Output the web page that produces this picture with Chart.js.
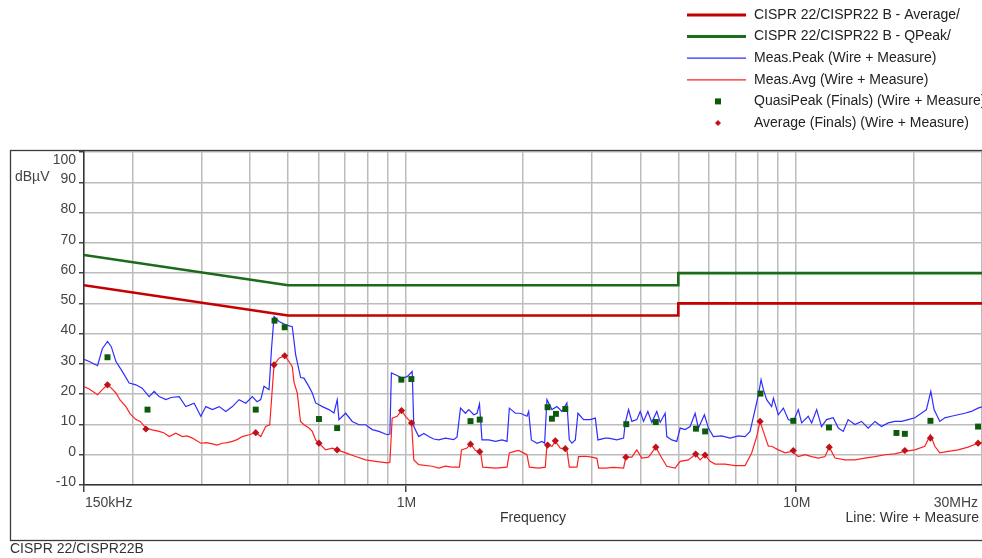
<!DOCTYPE html>
<html>
<head>
<meta charset="utf-8">
<title>CISPR 22 conducted emission</title>
<script src="https://cdn.jsdelivr.net/npm/chart.js@4.4.1/dist/chart.umd.min.js"></script>
<style>
  html, body { margin: 0; padding: 0; background: #ffffff; }
  canvas { display: block; }
</style>
</head>
<body>
<canvas id="emi" width="982" height="558"></canvas>
<script>
// ---- Limit lines (MHz, dBµV) ----
const limitAvgFreq  = [0.15, 0.5, 5, 5, 30];
const limitAvgLevel = [56, 46, 46, 50, 50];
const limitQpFreq   = [0.15, 0.5, 5, 5, 30];
const limitQpLevel  = [66, 56, 56, 60, 60];

// ---- Meas.Peak sweep (MHz, dBµV) ----
const peakFreq = [
  0.150, 0.1547, 0.1625, 0.1671, 0.1723, 0.1762, 0.1811, 0.1868, 0.1958, 0.2038,
  0.2114, 0.2203, 0.2269, 0.2337, 0.2432, 0.2508, 0.2630, 0.2735, 0.2873, 0.2988,
  0.3078, 0.3200, 0.3329, 0.3463, 0.3600, 0.3745, 0.3896, 0.4050, 0.4164, 0.4256,
  0.4339, 0.4469, 0.4535, 0.4603, 0.4741, 0.4930, 0.5126, 0.5230, 0.5386, 0.5492,
  0.5656, 0.5768, 0.5884, 0.6000, 0.6119, 0.6364, 0.6555, 0.6683, 0.6750, 0.7023,
  0.7302, 0.7596, 0.7899, 0.8214, 0.8546, 0.8973, 0.9117, 0.9199, 0.9428, 0.9802,
  1.0095, 1.040, 1.050, 1.081, 1.114, 1.147, 1.181, 1.217, 1.266, 1.329,
  1.355, 1.383, 1.424, 1.452, 1.496, 1.525, 1.547, 1.570, 1.634, 1.700,
  1.767, 1.820, 1.845, 1.912, 1.969, 2.047, 2.068, 2.101, 2.172, 2.236,
  2.272, 2.303, 2.372, 2.443, 2.516, 2.591, 2.628, 2.669, 2.723, 2.765,
  2.859, 2.974, 3.064, 3.111, 3.249, 3.313, 3.479, 3.620, 3.656, 3.728,
  3.801, 3.914, 3.994, 4.072, 4.177, 4.276, 4.404, 4.493, 4.627, 4.671,
  4.810, 4.955, 5.055, 5.206, 5.361, 5.521, 5.629, 5.832, 5.971, 6.150,
  6.457, 6.785, 7.127, 7.413, 7.635, 7.864, 8.019, 8.147, 8.259, 8.421,
  8.673, 8.761, 9.022, 9.292, 9.568, 9.854, 10.15, 10.35, 10.76, 10.98,
  11.31, 11.64, 11.99, 12.47, 12.85, 13.23, 13.62, 14.17, 14.74, 15.33,
  15.95, 16.58, 17.25, 17.94, 18.65, 19.41, 20.18, 20.98, 21.61, 22.18,
  22.61, 23.39, 24.09, 25.04, 26.05, 27.10, 28.18, 29.31, 30.0
];
const peakLevel = [
  31.5, 30.8, 29.4, 35.0, 37.4, 35.7, 30.8, 28.1, 23.7, 23.1,
  22.0, 19.2, 20.9, 19.2, 18.2, 18.9, 19.2, 15.9, 17.0, 12.7,
  15.9, 14.9, 15.9, 14.3, 15.9, 18.2, 17.0, 19.2, 17.5, 18.2,
  22.6, 21.5, 35.0, 45.6, 44.0, 42.9, 42.3, 33.0, 25.5, 25.3,
  22.5, 20.4, 17.1, 16.5, 15.9, 14.9, 13.8, 18.2, 11.6, 13.7,
  11.0, 9.9, 9.9, 8.3, 7.7, 6.6, 6.8, 27.0, 26.4, 25.3,
  25.8, 27.5, 9.3, 6.0, 7.0, 6.0, 5.2, 4.9, 5.5, 5.0,
  5.9, 15.4, 13.7, 14.9, 13.2, 13.7, 16.8, 4.9, 4.9, 4.4,
  4.9, 4.4, 15.4, 13.7, 13.7, 12.7, 14.3, 4.9, 3.8, 4.4,
  3.8, 18.2, 14.9, 15.9, 14.3, 17.1, 4.9, 3.8, 4.9, 13.7,
  11.6, 11.6, 12.1, 4.9, 5.5, 5.5, 4.9, 5.5, 10.5, 14.9,
  11.0, 11.6, 14.3, 11.0, 14.3, 10.7, 14.3, 10.7, 13.7, 6.0,
  4.9, 4.4, 8.8, 8.3, 9.3, 13.7, 8.8, 13.2, 8.8, 6.0,
  6.2, 5.5, 6.2, 6.0, 7.7, 14.9, 19.8, 24.8, 21.5, 18.2,
  15.9, 18.7, 13.2, 15.4, 11.6, 11.0, 14.9, 10.5, 12.7, 10.5,
  14.9, 9.3, 11.6, 12.2, 8.8, 7.7, 11.6, 10.0, 11.0, 8.8,
  11.0, 9.3, 10.5, 11.0, 11.0, 11.6, 12.2, 13.7, 14.9, 20.9,
  14.9, 11.0, 12.2, 12.7, 13.2, 13.7, 14.3, 15.4, 15.8
];

// ---- Meas.Avg sweep (MHz, dBµV) ----
const avgFreq = [
  0.150, 0.1547, 0.1625, 0.1671, 0.1723, 0.1762, 0.1811, 0.1857, 0.1921, 0.1970,
  0.2038, 0.2090, 0.2161, 0.2243, 0.2337, 0.2407, 0.2479, 0.2579, 0.2681, 0.2757,
  0.2844, 0.2988, 0.3083, 0.3200, 0.3289, 0.3394, 0.3489, 0.3600, 0.3701, 0.3819,
  0.3972, 0.4132, 0.4256, 0.4383, 0.4487, 0.4603, 0.4741, 0.4902, 0.5028, 0.5126,
  0.5178, 0.5279, 0.5380, 0.5492, 0.5656, 0.5768, 0.5884, 0.6000, 0.6243, 0.6490,
  0.6683, 0.7023, 0.7450, 0.7899, 0.8380, 0.8973, 0.9117, 0.9241, 0.9517, 0.9767,
  1.000, 1.036, 1.050, 1.081, 1.170, 1.217, 1.266, 1.316, 1.374, 1.391,
  1.437, 1.467, 1.511, 1.556, 1.577, 1.700, 1.820, 1.845, 1.893, 1.950,
  2.047, 2.076, 2.193, 2.281, 2.303, 2.372, 2.420, 2.492, 2.567, 2.591,
  2.628, 2.749, 2.776, 2.888, 3.003, 3.093, 3.124, 3.249, 3.412, 3.620,
  3.669, 3.801, 3.914, 4.031, 4.194, 4.378, 4.535, 4.671, 4.908, 5.055,
  5.308, 5.540, 5.686, 5.856, 6.032, 6.212, 6.589, 6.989, 7.413, 7.708,
  7.939, 8.099, 8.342, 8.506, 8.673, 9.022, 9.385, 9.757, 10.15, 10.56,
  10.98, 11.42, 11.88, 12.18, 12.60, 13.36, 14.17, 15.04, 15.95, 16.92,
  17.94, 19.03, 20.18, 21.41, 22.13, 22.71, 23.39, 24.56, 26.05, 27.63,
  29.31, 30.0
];
const avgLevel = [
  22.5, 21.7, 19.8, 21.5, 23.1, 22.0, 20.4, 18.0, 15.9, 13.5,
  11.6, 11.0, 8.8, 8.2, 7.7, 7.2, 6.0, 7.1, 6.0, 6.2,
  5.5, 3.8, 4.0, 3.6, 3.2, 3.8, 4.0, 4.4, 5.0, 6.0,
  6.6, 7.3, 6.0, 9.3, 9.9, 29.7, 31.9, 32.7, 30.8, 29.1,
  24.0, 20.4, 11.0, 9.9, 8.8, 7.7, 4.9, 3.8, 1.6, 2.2,
  1.6, 0.6, -0.6, -1.7, -2.2, -2.7, -2.5, 12.1, 12.7, 14.6,
  12.7, 10.5, -1.7, -3.3, -3.8, -4.4, -3.8, -4.1, -4.1, 1.6,
  2.2, 3.6, 1.4, 1.1, -4.1, -4.4, -4.1, 0.6, 1.0, 1.4,
  0.0, -4.1, -4.4, -4.1, 3.3, 2.8, 4.4, 2.2, 2.0, 1.6,
  -4.1, -4.1, -0.6, -0.5, -0.8, -1.2, -4.4, -4.4, -4.2, -4.4,
  -0.8, -0.8, 1.6, -1.1, -0.8, 2.5, -1.1, -3.8, -4.4, -2.2,
  -1.7, 0.2, -1.7, -0.1, -2.2, -3.1, -3.1, -3.6, -3.6, 0.6,
  6.0, 11.0, 6.0, 2.8, 2.8, 1.6, 0.6, 1.1, -0.6, 0.0,
  -0.6, -1.1, -0.6, 2.5, -1.1, -1.7, -1.7, -1.1, -0.6, 0.0,
  0.3, 1.1, 1.6, 2.8, 6.6, 2.8, 0.6, 1.1, 1.6, 2.5,
  3.8, 4.0
];

// ---- Final measurements ----
const qpFinalFreq  = [0.1723, 0.2182, 0.4132, 0.4616, 0.4902, 0.600, 0.668, 0.9756, 1.035, 1.467,
                      1.549, 2.312, 2.372, 2.429, 2.567, 3.678, 4.378, 5.548, 5.857, 8.113,
                      9.854, 12.16, 18.11, 19.03, 22.13, 29.31];
const qpFinalLevel = [32.2, 14.9, 14.9, 44.3, 42.1, 11.8, 8.8, 24.8, 25.0, 11.1,
                      11.6, 15.7, 11.9, 13.5, 15.1, 10.1, 10.8, 8.6, 7.7, 20.2,
                      11.2, 9.0, 7.2, 6.9, 11.2, 9.3];
const avFinalFreq  = [0.1723, 0.2161, 0.4132, 0.4603, 0.4902, 0.600, 0.668, 0.9767, 1.036, 1.467,
                      1.549, 2.312, 2.420, 2.567, 3.669, 4.378, 5.540, 5.856, 8.099, 9.854,
                      12.18, 19.03, 22.13, 29.31];
const avFinalLevel = [23.1, 8.5, 7.3, 29.7, 32.7, 3.8, 1.6, 14.6, 10.5, 3.5,
                      1.0, 3.2, 4.6, 2.0, -0.8, 2.5, 0.2, -0.1, 11.0, 1.4,
                      2.5, 1.4, 5.5, 3.8];

// ---- Axis ticks ----
const gridFreqs = [0.15, 0.2, 0.3, 0.4, 0.5, 0.6, 0.7, 0.8, 0.9,
                   1, 2, 3, 4, 5, 6, 7, 8, 9, 10, 20, 30];
const freqTickValues = [0.15, 1, 10, 30];
const freqTickLabels = ['150kHz', '1M', '10M', '30MHz'];
const levelMin = -10, levelMax = 100, levelStep = 10;

const seriesLabels = [
  'CISPR 22/CISPR22 B - Average/',
  'CISPR 22/CISPR22 B - QPeak/',
  'Meas.Peak (Wire + Measure)',
  'Meas.Avg (Wire + Measure)',
  'QuasiPeak (Finals) (Wire + Measure)',
  'Average (Finals) (Wire + Measure)'
];

const FONT = '"Liberation Sans", Arial, Helvetica, sans-serif';
const toPoints = (xs, ys) => xs.map((x, i) => ({ x: x, y: ys[i] }));

// Legend, frame and captions drawn on top of the plot
const decorations = {
  id: 'decorations',
  afterDraw(chart) {
    const ctx = chart.ctx;
    const xs = chart.scales.x;
    ctx.save();

    // outer frame
    ctx.strokeStyle = '#3c3c3c';
    ctx.lineWidth = 1.3;
    ctx.strokeRect(10.5, 150.5, 995, 390);

    ctx.font = '14px ' + FONT;
    ctx.textBaseline = 'middle';

    // unit and top tick label
    ctx.fillStyle = '#444';
    ctx.textAlign = 'left';
    ctx.fillText('dBµV', 15, 177);
    ctx.textAlign = 'right';
    ctx.fillText(String(levelMax), 76, 160);

    // frequency tick labels
    freqTickValues.forEach((v, i) => {
      const px = xs.getPixelForValue(v);
      if (i === 0) { ctx.textAlign = 'left'; ctx.fillText(freqTickLabels[i], px + 1, 503); }
      else if (i === freqTickValues.length - 1) { ctx.textAlign = 'right'; ctx.fillText(freqTickLabels[i], px - 4, 503); }
      else { ctx.textAlign = 'center'; ctx.fillText(freqTickLabels[i], px + 1, 503); }
    });

    // axis title and captions
    ctx.fillStyle = '#333';
    ctx.textAlign = 'center';
    ctx.fillText('Frequency', (chart.chartArea.left + chart.chartArea.right) / 2, 518);
    ctx.textAlign = 'right';
    ctx.fillText('Line: Wire + Measure', 979, 518);
    ctx.textAlign = 'left';
    ctx.fillText('CISPR 22/CISPR22B', 10, 549);

    // legend
    chart.data.datasets.forEach((ds, i) => {
      const y = 15 + i * 21.6;
      if (ds.showLine) {
        ctx.strokeStyle = ds.borderColor;
        ctx.lineWidth = ds.legendLineWidth;
        ctx.beginPath();
        ctx.moveTo(687, y);
        ctx.lineTo(746, y);
        ctx.stroke();
      } else {
        ctx.fillStyle = ds.backgroundColor;
        if (ds.pointStyle === 'rect') {
          ctx.fillRect(715, y - 3, 6, 6);
        } else {
          ctx.beginPath();
          ctx.moveTo(718, y - 3);
          ctx.lineTo(721, y);
          ctx.lineTo(718, y + 3);
          ctx.lineTo(715, y);
          ctx.closePath();
          ctx.fill();
        }
      }
      ctx.fillStyle = '#222';
      ctx.textAlign = 'left';
      ctx.fillText(ds.label, 754, y);
    });
    ctx.restore();
  }
};

Chart.defaults.font.family = FONT;
Chart.defaults.font.size = 14;

new Chart(document.getElementById('emi'), {
  type: 'scatter',
  data: {
    datasets: [
      { label: seriesLabels[0], data: toPoints(limitAvgFreq, limitAvgLevel), showLine: true,
        borderColor: '#c40000', borderWidth: 2.6, legendLineWidth: 3, pointRadius: 0, order: 1 },
      { label: seriesLabels[1], data: toPoints(limitQpFreq, limitQpLevel), showLine: true,
        borderColor: '#1b6b1b', borderWidth: 2.6, legendLineWidth: 3, pointRadius: 0, order: 1 },
      { label: seriesLabels[2], data: toPoints(peakFreq, peakLevel), showLine: true,
        borderColor: '#2d2dff', borderWidth: 1.2, legendLineWidth: 1.2, pointRadius: 0, order: 3 },
      { label: seriesLabels[3], data: toPoints(avgFreq, avgLevel), showLine: true,
        borderColor: '#ff2020', borderWidth: 1.2, legendLineWidth: 1.2, pointRadius: 0, order: 2 },
      { label: seriesLabels[4], data: toPoints(qpFinalFreq, qpFinalLevel), showLine: false,
        pointStyle: 'rect', pointRadius: 4.2, backgroundColor: '#0c5a0c', borderColor: '#0c5a0c',
        borderWidth: 0, order: 0 },
      { label: seriesLabels[5], data: toPoints(avFinalFreq, avFinalLevel), showLine: false,
        pointStyle: 'rectRot', pointRadius: 3.6, backgroundColor: '#c0101a', borderColor: '#c0101a',
        borderWidth: 0, order: 0 }
    ]
  },
  options: {
    responsive: false,
    devicePixelRatio: 1,
    animation: false,
    events: [],
    layout: { autoPadding: false, padding: { top: 152, left: 0, right: 0, bottom: 0 } },
    plugins: { legend: { display: false }, tooltip: { enabled: false } },
    scales: {
      x: {
        type: 'logarithmic',
        min: 0.15,
        max: 30,
        afterBuildTicks: (scale) => { scale.ticks = gridFreqs.map(v => ({ value: v })); },
        afterFit: (scale) => { scale.height = 73; },
        ticks: { display: false },
        grid: {
          color: '#bcbcbc',
          lineWidth: 1.5,
          tickLength: 7,
          tickColor: (c) => (c.tick && freqTickValues.slice(0, 3).includes(c.tick.value)) ? '#444' : 'rgba(0,0,0,0)'
        },
        border: { display: true, color: '#333', width: 1.5 }
      },
      y: {
        min: levelMin,
        max: levelMax,
        afterFit: (scale) => { scale.width = 84; },
        ticks: {
          stepSize: levelStep,
          color: '#444',
          padding: 3,
          labelOffset: -3,
          callback: (v) => (v === levelMax ? '' : String(v))
        },
        grid: { color: '#bcbcbc', lineWidth: 1.5, tickLength: 5, tickColor: '#444' },
        border: { display: true, color: '#333', width: 1.5 }
      }
    }
  },
  plugins: [decorations]
});
</script>
</body>
</html>
